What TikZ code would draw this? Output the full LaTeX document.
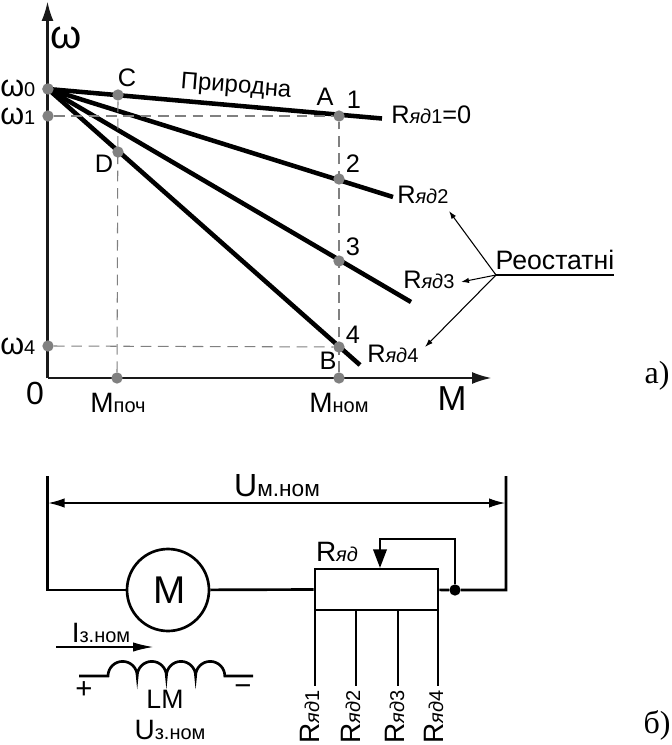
\documentclass[tikz,border=0pt]{standalone}
\usepackage{fontspec}
\setmainfont{Liberation Sans}
\newfontfamily\serifcap{Liberation Serif}
\usetikzlibrary{arrows.meta}
\tikzset{
  curve/.style={line width=3.4pt},
  axisline/.style={line width=2pt,color=black!90},
  wire/.style={line width=2pt},
  thinwire/.style={line width=0.8pt},
  guide/.style={color=gray,line width=0.8pt,dash pattern=on 8pt off 5pt},
  dot/.style={circle,fill=gray,inner sep=0pt,minimum size=8.5pt},
  lab/.style={inner sep=0pt,font=\fontsize{19}{22}\selectfont},
  midlab/.style={lab,font=\fontsize{21}{24}\selectfont},
  greek/.style={lab,font=\fontsize{23}{26}\selectfont},
  biglab/.style={lab,font=\fontsize{26}{30}\selectfont},
  caplab/.style={lab,font=\fontsize{24}{26}\serifcap\selectfont},
  bigtip/.style={-{Latex[length=15pt,width=9pt]}},
  smalltip/.style={-{Latex[length=6pt,width=4pt]}}
}
\newcommand{\low}[1]{{\fontsize{15}{16}\selectfont #1}}
\newcommand{\Ryad}[1]{R\low{\textit{яд}#1}}
\begin{document}
\begin{tikzpicture}[x=0.75pt,y=-0.75pt]
  \useasboundingbox (0,0) rectangle (671,745);
  % characteristics
  \coordinate (org) at (47.5,378);
  \coordinate (wtop) at (47.5,1);
  \coordinate (mend) at (492,378);
  \node[dot] (w0) at (48,89) {};
  \coordinate (e1) at (382,118.5);
  \coordinate (e2) at (393,197);
  \coordinate (e3) at (411,302);
  \coordinate (e4) at (360,365);
  \draw[axisline,bigtip] (org) -- (wtop);
  \draw[axisline,bigtip] (org) -- (mend);
  \foreach \e in {e1,e2,e3,e4}
    \draw[curve] (w0.center) -- (\e);
  \node[dot] (w0) at (48,89) {};
  \node[dot] (w1) at (48,116) {};
  \node[dot] (w4) at (48,346) {};
  \node[dot] (mp) at (117,378) {};
  \node[dot] (mn) at (339,378) {};
  \node[dot] (pC) at (118,95) {};
  \node[dot] (pD) at (118,152) {};
  \node[dot] (p1) at (339,116) {};
  \node[dot] (p2) at (339,179) {};
  \node[dot] (p3) at (339,261) {};
  \node[dot] (p4) at (339,347) {};
  \draw[guide] (w1) -- (p1);
  \draw[guide] (w4) -- (p4);
  \draw[guide] (mp) -- (pC);
  \draw[guide] (mn) -- (p1);
  % labels of the axes
  \node[lab,font=\fontsize{30}{32}\selectfont] (lw) at (66,38) {ω};
  \node[greek,anchor=west] (lw0) at (0,88) {ω\low{0}};
  \node[greek,anchor=west] (lw1) at (0,116) {ω\low{1}};
  \node[greek,anchor=west] (lw4) at (0,346) {ω\low{4}};
  \node[lab,font=\fontsize{24}{26}\selectfont] (l0) at (35,393) {0};
  \node[midlab] (lmp) at (118,403) {M\low{поч}};
  \node[midlab] (lmn) at (339,403) {M\low{ном}};
  \node[biglab] (lm) at (452,399) {M};
  \node[lab] (lC) at (127,78) {C};
  \node[lab] (lD) at (104,164) {D};
  \node[lab] (lA) at (325,97) {A};
  \node[lab] (lB) at (328,361) {B};
  \node[lab] (l1) at (354,100) {1};
  \node[lab] (l2) at (353,164) {2};
  \node[lab] (l3) at (353,247) {3};
  \node[lab] (l4) at (353,335) {4};
  \node[lab,rotate=-4.5,font=\fontsize{18}{20}\selectfont] (lnat) at (236,87) {Природна};
  \node[lab,anchor=west] (r1) at (391,115) {\Ryad{1}=0};
  \node[lab,anchor=west] (r2) at (397,195) {\Ryad{2}};
  \node[lab,anchor=west] (r3) at (403,280) {\Ryad{3}};
  \node[lab,anchor=west] (r4) at (367,354) {\Ryad{4}};
  % rheostat note
  \coordinate (fork) at (496,275);
  \coordinate (forkend) at (614,275);
  \node[lab,anchor=base,font=\fontsize{20}{22}\selectfont] (lreo) at (555,269) {Реостатні};
  \draw[thinwire] (fork) -- (forkend);
  \coordinate (a2) at (449,211);
  \coordinate (a3) at (461,282);
  \coordinate (a4) at (425,347);
  \foreach \a in {a2,a3,a4}
    \draw[thinwire,smalltip] (fork) -- (\a);
  \node[caplab] (capa) at (657,376) {а)};
  % circuit
  \coordinate (ltop) at (47.5,476);
  \coordinate (lbot) at (47.5,590);
  \coordinate (rtop) at (506,476);
  \coordinate (rbot) at (506,590);
  \coordinate (ularr) at (48.5,503);
  \coordinate (urarr) at (505,503);
  \node[draw,circle,wire,inner sep=0pt,minimum size=61.5pt] (motor) at (168,590) {};
  \node[lab,font=\fontsize{29}{32}\selectfont] (lmotor) at (170,590) {M};
  \node[draw,wire,inner sep=0pt,minimum width=92.25pt,minimum height=30.75pt] (rh) at (376.5,589.5) {};
  \node[circle,fill=black,inner sep=0pt,minimum size=8.5pt] (jn) at (455,590) {};
  \coordinate (slT) at (455,539);
  \coordinate (slL) at (380,539);
  \coordinate (slE) at (380,568);
  \draw[wire] (ltop) -- (lbot) -- (motor);
  \draw[wire] (motor) -- (rh.west);
  \draw[wire] (rh) -- (jn) -- (rbot) -- (rtop);
  \draw[wire,-{Triangle[length=14pt,width=10pt]}] (jn) -- (slT) -- (slL) -- (slE);
  \draw[thinwire,{Latex[length=12pt,width=7pt]}-{Latex[length=12pt,width=7pt]}] (ularr) -- (urarr);
  \node[lab,font=\fontsize{24}{26}\selectfont] (lu) at (277,486) {U{\fontsize{17}{18}\selectfont м.ном}};
  \node[lab,font=\fontsize{21}{24}\selectfont] (lrh) at (337,552) {\Ryad{}};
  \foreach \n/\x/\lx in {1/315/319,2/356/360,3/398/404,4/438/443} {
    \coordinate (t\n) at (\x,610);
    \coordinate (b\n) at (\x,686);
    \draw[thinwire] (t\n) -- (b\n);
    \node[midlab,rotate=90,anchor=base west] (rt\n) at (\lx,744) {\Ryad{\n}};
  }
  % field winding
  \coordinate (cl) at (79,676);
  \coordinate (cr) at (253,676);
  \draw[wire] (cl) -- (108,676) arc[start angle=180,end angle=360,radius=14.6]
    arc[start angle=180,end angle=360,radius=14.6]
    arc[start angle=180,end angle=360,radius=14.6]
    arc[start angle=180,end angle=360,radius=14.6] -- (cr);
  \coordinate (il) at (56,647);
  \coordinate (ir) at (153,647);
  \draw[thinwire,-{Latex[length=15pt,width=7pt]}] (il) -- (ir);
  \node[midlab,anchor=base] (li) at (101,642) {I\low{з.ном}};
  \node[lab,font=\fontsize{22}{24}\selectfont] (lplus) at (84,690) {+};
  \node[lab,font=\fontsize{22}{24}\selectfont] (lminus) at (243,690) {−};
  \node[lab,font=\fontsize{20}{22}\selectfont] (llm) at (165,699) {LM};
  \node[midlab,anchor=base] (luz) at (170,739) {U\low{з.ном}};
  \node[caplab] (capb) at (657,725) {б)};
\end{tikzpicture}
\end{document}
